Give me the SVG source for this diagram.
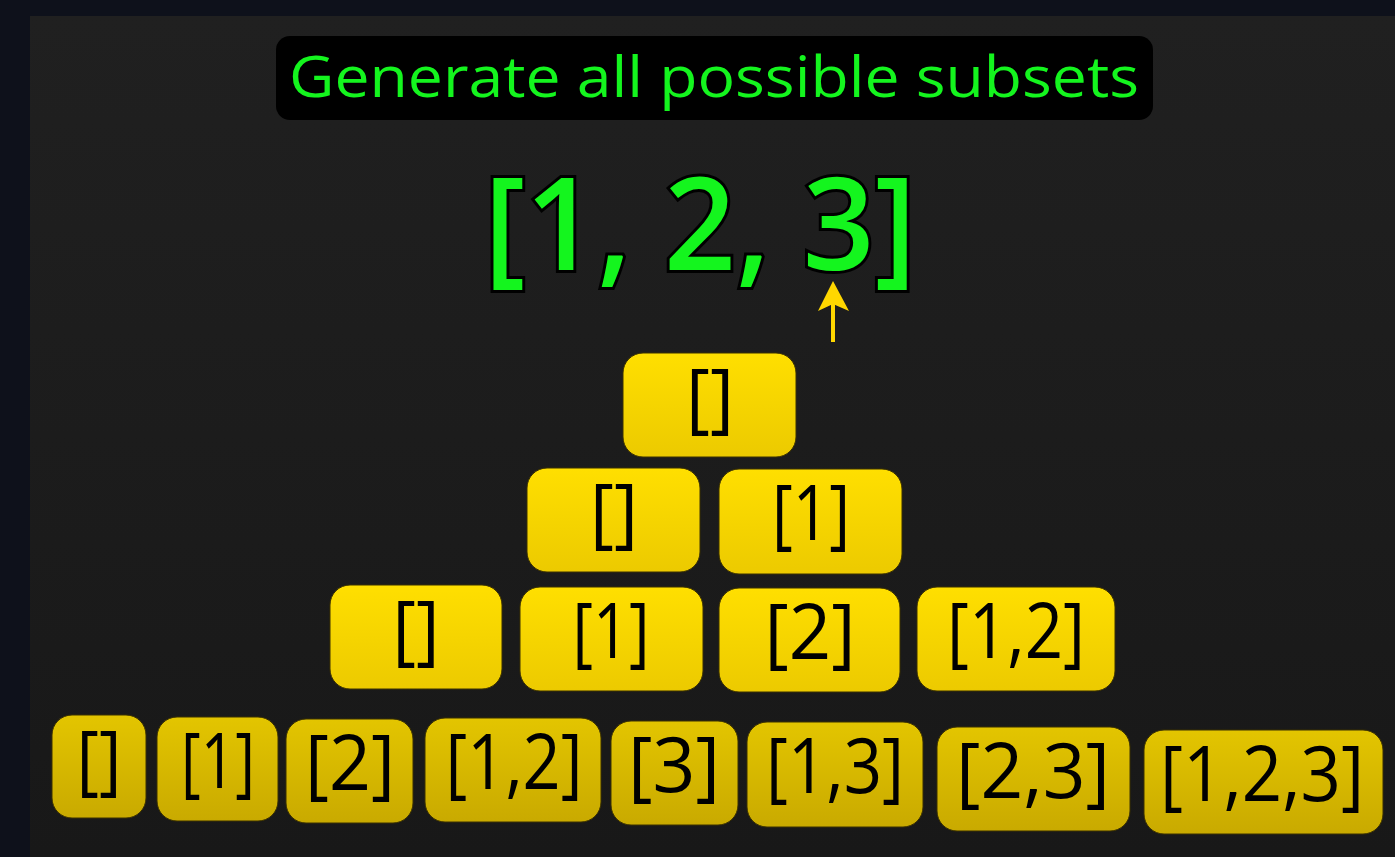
<svg xmlns="http://www.w3.org/2000/svg" width="1395" height="857" viewBox="0 0 1395 857">
<defs>
<linearGradient id="panel" x1="0" y1="0" x2="0" y2="1">
<stop offset="0" stop-color="#202020"/><stop offset="1" stop-color="#181818"/>
</linearGradient>
<linearGradient id="yg" x1="0" y1="0" x2="0" y2="1">
<stop offset="0" stop-color="#ffdf00"/><stop offset="1" stop-color="#ecca00"/>
</linearGradient>
<linearGradient id="yg2" x1="0" y1="0" x2="0" y2="1">
<stop offset="0" stop-color="#e3c500"/><stop offset="1" stop-color="#c9aa00"/>
</linearGradient>
<style>
.box{fill:url(#yg);stroke:#3a3000;stroke-width:1}
.box2{fill:url(#yg2);stroke:#3a3000;stroke-width:1}
.lbl{font-family:"Open Sans","Liberation Sans",sans-serif;font-size:76px;font-weight:500;fill:#000;text-anchor:middle}
.green{fill:#14f51e}
</style>
</defs>
<rect x="0" y="0" width="1395" height="857" fill="#0e111b"/>
<rect x="30" y="16" width="1365" height="841" fill="url(#panel)"/>
<g id="title">
<rect x="276" y="36" width="877" height="84" rx="14" fill="#000"/>
<text x="714" y="97" text-anchor="middle" font-family="Open Sans, Liberation Sans, sans-serif" font-size="56" font-weight="500" class="green" textLength="850" lengthAdjust="spacingAndGlyphs">Generate all possible subsets</text>
</g>
<g id="array">
<text x="700" y="270" text-anchor="middle" font-family="Open Sans, Liberation Sans, sans-serif" font-size="128" font-weight="600" class="green" stroke="#000" stroke-width="6" paint-order="stroke" textLength="432" lengthAdjust="spacingAndGlyphs">[1, 2, 3]</text>
</g>
<g id="connectors">
<line x1="833" y1="342" x2="833" y2="300" stroke="#ffd700" stroke-width="4"/>
<polygon points="833,281 818,311 833,304 849,311" fill="#ffd700"/>
</g>
<g id="r1-0"><rect class="box" x="623" y="353" width="173" height="104" rx="20"/><text class="lbl" x="710" y="424" textLength="48" lengthAdjust="spacingAndGlyphs">[]</text></g>
<g id="r2-0"><rect class="box" x="527" y="468" width="173" height="104" rx="20"/><text class="lbl" x="614" y="539" textLength="48" lengthAdjust="spacingAndGlyphs">[]</text></g>
<g id="r2-1"><rect class="box" x="719" y="469" width="183" height="105" rx="20"/><text class="lbl" x="811" y="540" textLength="78" lengthAdjust="spacingAndGlyphs">[1]</text></g>
<g id="r3-0"><rect class="box" x="330" y="585" width="172" height="104" rx="20"/><text class="lbl" x="416" y="656" textLength="47" lengthAdjust="spacingAndGlyphs">[]</text></g>
<g id="r3-1"><rect class="box" x="520" y="587" width="183" height="104" rx="20"/><text class="lbl" x="611" y="658" textLength="77" lengthAdjust="spacingAndGlyphs">[1]</text></g>
<g id="r3-2"><rect class="box" x="719" y="588" width="181" height="104" rx="20"/><text class="lbl" x="810" y="659" textLength="91" lengthAdjust="spacingAndGlyphs">[2]</text></g>
<g id="r3-3"><rect class="box" x="917" y="587" width="198" height="104" rx="20"/><text class="lbl" x="1016" y="658" textLength="138" lengthAdjust="spacingAndGlyphs">[1,2]</text></g>
<g id="r4-0"><rect class="box2" x="52" y="715" width="94" height="103" rx="20"/><text class="lbl" x="99" y="786" textLength="45" lengthAdjust="spacingAndGlyphs">[]</text></g>
<g id="r4-1"><rect class="box2" x="157" y="717" width="121" height="104" rx="20"/><text class="lbl" x="218" y="788" textLength="74" lengthAdjust="spacingAndGlyphs">[1]</text></g>
<g id="r4-2"><rect class="box2" x="286" y="719" width="127" height="104" rx="20"/><text class="lbl" x="350" y="790" textLength="90" lengthAdjust="spacingAndGlyphs">[2]</text></g>
<g id="r4-3"><rect class="box2" x="425" y="718" width="176" height="104" rx="20"/><text class="lbl" x="514" y="789" textLength="137" lengthAdjust="spacingAndGlyphs">[1,2]</text></g>
<g id="r4-4"><rect class="box2" x="611" y="721" width="127" height="104" rx="20"/><text class="lbl" x="674" y="792" textLength="92" lengthAdjust="spacingAndGlyphs">[3]</text></g>
<g id="r4-5"><rect class="box2" x="747" y="722" width="176" height="105" rx="20"/><text class="lbl" x="835" y="793" textLength="138" lengthAdjust="spacingAndGlyphs">[1,3]</text></g>
<g id="r4-6"><rect class="box2" x="937" y="727" width="193" height="104" rx="20"/><text class="lbl" x="1033" y="798" textLength="154" lengthAdjust="spacingAndGlyphs">[2,3]</text></g>
<g id="r4-7"><rect class="box2" x="1144" y="730" width="239" height="104" rx="20"/><text class="lbl" x="1262" y="801" textLength="204" lengthAdjust="spacingAndGlyphs">[1,2,3]</text></g>
</svg>
